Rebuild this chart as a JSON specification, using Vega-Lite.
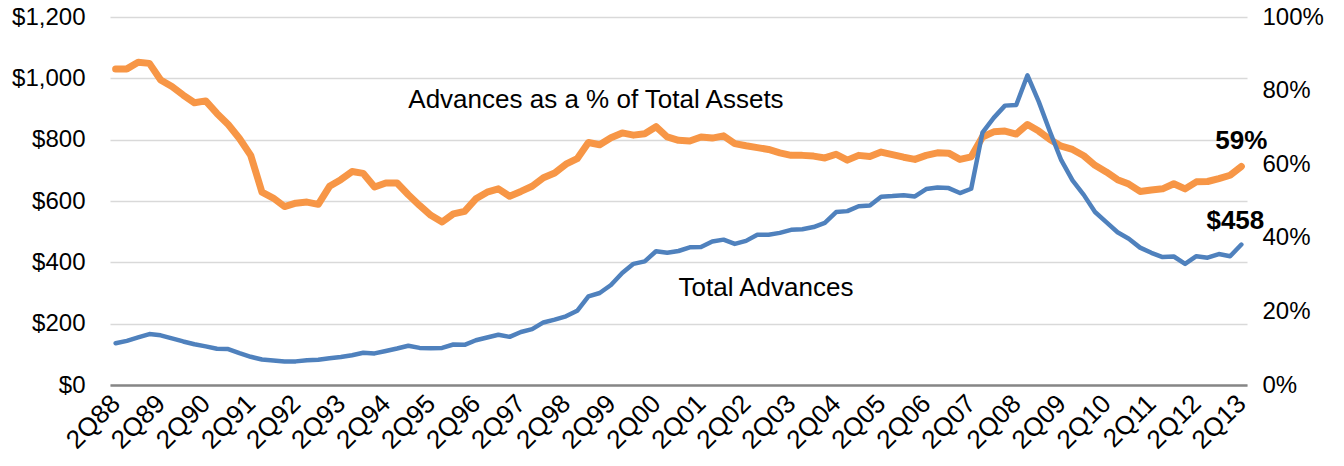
{
  "$schema": "https://vega.github.io/schema/vega-lite/v6.json",
  "width": 1137,
  "height": 368,
  "autosize": {"type": "none"},
  "padding": {"left": 110, "top": 17, "right": 97, "bottom": 81},
  "background": "white",
  "config": {"view": {"stroke": null}, "font": "Liberation Sans"},
  "data": {"values": [
    {"q":"2Q88","adv":136,"pct":85.9},{"q":"3Q88","adv":144,"pct":85.9},{"q":"4Q88","adv":155,"pct":87.7},{"q":"1Q89","adv":166,"pct":87.4},
    {"q":"2Q89","adv":162,"pct":82.9},{"q":"3Q89","adv":152,"pct":81.1},{"q":"4Q89","adv":142,"pct":78.8},{"q":"1Q90","adv":133,"pct":76.7},
    {"q":"2Q90","adv":126,"pct":77.2},{"q":"3Q90","adv":118,"pct":73.8},{"q":"4Q90","adv":117,"pct":70.8},{"q":"1Q91","adv":104,"pct":67.0},
    {"q":"2Q91","adv":92,"pct":62.4},{"q":"3Q91","adv":83,"pct":52.4},{"q":"4Q91","adv":80,"pct":50.8},{"q":"1Q92","adv":77,"pct":48.5},
    {"q":"2Q92","adv":77,"pct":49.4},{"q":"3Q92","adv":81,"pct":49.7},{"q":"4Q92","adv":82,"pct":49.1},{"q":"1Q93","adv":87,"pct":54.0},
    {"q":"2Q93","adv":91,"pct":55.8},{"q":"3Q93","adv":97,"pct":58.0},{"q":"4Q93","adv":105,"pct":57.5},{"q":"1Q94","adv":103,"pct":53.8},
    {"q":"2Q94","adv":111,"pct":54.9},{"q":"3Q94","adv":119,"pct":54.9},{"q":"4Q94","adv":128,"pct":51.7},{"q":"1Q95","adv":121,"pct":48.8},
    {"q":"2Q95","adv":120,"pct":46.1},{"q":"3Q95","adv":121,"pct":44.3},{"q":"4Q95","adv":132,"pct":46.5},{"q":"1Q96","adv":131,"pct":47.2},
    {"q":"2Q96","adv":146,"pct":50.6},{"q":"3Q96","adv":155,"pct":52.4},{"q":"4Q96","adv":164,"pct":53.3},{"q":"1Q97","adv":157,"pct":51.3},
    {"q":"2Q97","adv":173,"pct":52.6},{"q":"3Q97","adv":182,"pct":54.0},{"q":"4Q97","adv":204,"pct":56.3},{"q":"1Q98","adv":213,"pct":57.6},
    {"q":"2Q98","adv":224,"pct":60.0},{"q":"3Q98","adv":242,"pct":61.5},{"q":"4Q98","adv":289,"pct":65.9},{"q":"1Q99","adv":300,"pct":65.3},
    {"q":"2Q99","adv":326,"pct":67.2},{"q":"3Q99","adv":365,"pct":68.5},{"q":"4Q99","adv":395,"pct":67.9},{"q":"1Q00","adv":403,"pct":68.3},
    {"q":"2Q00","adv":436,"pct":70.2},{"q":"3Q00","adv":431,"pct":67.4},{"q":"4Q00","adv":437,"pct":66.5},{"q":"1Q01","adv":449,"pct":66.3},
    {"q":"2Q01","adv":450,"pct":67.4},{"q":"3Q01","adv":468,"pct":67.1},{"q":"4Q01","adv":474,"pct":67.7},{"q":"1Q02","adv":460,"pct":65.6},
    {"q":"2Q02","adv":470,"pct":65.0},{"q":"3Q02","adv":490,"pct":64.5},{"q":"4Q02","adv":490,"pct":64.0},{"q":"1Q03","adv":496,"pct":63.1},
    {"q":"2Q03","adv":506,"pct":62.4},{"q":"3Q03","adv":508,"pct":62.4},{"q":"4Q03","adv":515,"pct":62.2},{"q":"1Q04","adv":529,"pct":61.7},
    {"q":"2Q04","adv":564,"pct":62.7},{"q":"3Q04","adv":567,"pct":61.1},{"q":"4Q04","adv":583,"pct":62.4},{"q":"1Q05","adv":585,"pct":62.1},
    {"q":"2Q05","adv":614,"pct":63.3},{"q":"3Q05","adv":616,"pct":62.6},{"q":"4Q05","adv":619,"pct":61.9},{"q":"1Q06","adv":615,"pct":61.3},
    {"q":"2Q06","adv":639,"pct":62.4},{"q":"3Q06","adv":644,"pct":63.1},{"q":"4Q06","adv":642,"pct":63.0},{"q":"1Q07","adv":626,"pct":61.3},
    {"q":"2Q07","adv":640,"pct":62.0},{"q":"3Q07","adv":823,"pct":67.4},{"q":"4Q07","adv":871,"pct":68.8},{"q":"1Q08","adv":911,"pct":69.0},
    {"q":"2Q08","adv":913,"pct":68.2},{"q":"3Q08","adv":1010,"pct":70.8},{"q":"4Q08","adv":924,"pct":69.0},{"q":"1Q09","adv":826,"pct":66.7},
    {"q":"2Q09","adv":733,"pct":64.9},{"q":"3Q09","adv":667,"pct":64.0},{"q":"4Q09","adv":620,"pct":62.3},{"q":"1Q10","adv":564,"pct":59.7},
    {"q":"2Q10","adv":531,"pct":57.9},{"q":"3Q10","adv":498,"pct":55.8},{"q":"4Q10","adv":477,"pct":54.6},{"q":"1Q11","adv":448,"pct":52.6},
    {"q":"2Q11","adv":431,"pct":53.0},{"q":"3Q11","adv":417,"pct":53.3},{"q":"4Q11","adv":419,"pct":54.7},{"q":"1Q12","adv":395,"pct":53.3},
    {"q":"2Q12","adv":420,"pct":55.2},{"q":"3Q12","adv":415,"pct":55.3},{"q":"4Q12","adv":427,"pct":56.1},{"q":"1Q13","adv":420,"pct":57.0},
    {"q":"2Q13","adv":458,"pct":59.4}
  ]},
  "encoding": {
    "x": {
      "field": "q",
      "type": "ordinal",
      "scale": {
        "type": "point",
        "padding": 0.5,
        "domain": ["2Q88","3Q88","4Q88","1Q89","2Q89","3Q89","4Q89","1Q90","2Q90","3Q90","4Q90","1Q91","2Q91","3Q91","4Q91","1Q92","2Q92","3Q92","4Q92","1Q93","2Q93","3Q93","4Q93","1Q94","2Q94","3Q94","4Q94","1Q95","2Q95","3Q95","4Q95","1Q96","2Q96","3Q96","4Q96","1Q97","2Q97","3Q97","4Q97","1Q98","2Q98","3Q98","4Q98","1Q99","2Q99","3Q99","4Q99","1Q00","2Q00","3Q00","4Q00","1Q01","2Q01","3Q01","4Q01","1Q02","2Q02","3Q02","4Q02","1Q03","2Q03","3Q03","4Q03","1Q04","2Q04","3Q04","4Q04","1Q05","2Q05","3Q05","4Q05","1Q06","2Q06","3Q06","4Q06","1Q07","2Q07","3Q07","4Q07","1Q08","2Q08","3Q08","4Q08","1Q09","2Q09","3Q09","4Q09","1Q10","2Q10","3Q10","4Q10","1Q11","2Q11","3Q11","4Q11","1Q12","2Q12","3Q12","4Q12","1Q13","2Q13"]
      },
      "axis": {
        "values": ["2Q88","2Q89","2Q90","2Q91","2Q92","2Q93","2Q94","2Q95","2Q96","2Q97","2Q98","2Q99","2Q00","2Q01","2Q02","2Q03","2Q04","2Q05","2Q06","2Q07","2Q08","2Q09","2Q10","2Q11","2Q12","2Q13"],
        "title": null,
        "labelAngle": -45,
        "labelAlign": "right",
        "labelBaseline": "middle",
        "labelFontSize": 26,
        "labelColor": "#000000",
        "labelPadding": 14,
        "ticks": false,
        "domain": true,
        "domainColor": "#868686",
        "domainWidth": 2.5,
        "grid": false,
        "labelOverlap": false
      }
    }
  },
  "layer": [
    {
      "encoding": {
        "y": {
          "field": "pct",
          "type": "quantitative",
          "scale": {"domain": [0, 100], "nice": false, "zero": true},
          "axis": {
            "orient": "right",
            "values": [0, 20, 40, 60, 80, 100],
            "labelExpr": "datum.value + '%'",
            "title": null,
            "domain": false,
            "ticks": false,
            "grid": false,
            "labelFontSize": 24,
            "labelColor": "#000000",
            "labelPadding": 15
          }
        }
      },
      "layer": [
        {"mark": {"type": "line", "color": "#F79646", "strokeWidth": 7, "strokeJoin": "round", "strokeCap": "round"}},
        {
          "data": {"values": [{"q": "4Q94", "pct": 77.4, "label": "Advances as a % of Total Assets"}]},
          "mark": {"type": "text", "align": "left", "baseline": "middle", "fontSize": 26, "color": "#000000"},
          "encoding": {"text": {"field": "label"}}
        },
        {
          "data": {"values": [{"q": "2Q13", "pct": 66.3, "label": "59%"}]},
          "mark": {"type": "text", "align": "center", "baseline": "middle", "fontSize": 26, "fontWeight": "bold", "color": "#000000"},
          "encoding": {"text": {"field": "label"}}
        }
      ]
    },
    {
      "encoding": {
        "y": {
          "field": "adv",
          "type": "quantitative",
          "scale": {"domain": [0, 1200], "nice": false, "zero": true},
          "axis": {
            "orient": "left",
            "values": [0, 200, 400, 600, 800, 1000, 1200],
            "labelExpr": "'$' + format(datum.value, ',')",
            "title": null,
            "domain": false,
            "ticks": false,
            "grid": true,
            "gridColor": "#D9D9D9",
            "gridWidth": 1.5,
            "labelFontSize": 24,
            "labelColor": "#000000",
            "labelPadding": 25
          }
        }
      },
      "layer": [
        {"mark": {"type": "line", "color": "#4F81BD", "strokeWidth": 4.5, "strokeJoin": "round", "strokeCap": "round"}},
        {
          "data": {"values": [{"q": "4Q00", "adv": 316, "label": "Total Advances"}]},
          "mark": {"type": "text", "align": "left", "baseline": "middle", "fontSize": 26, "color": "#000000"},
          "encoding": {"text": {"field": "label"}}
        },
        {
          "data": {"values": [{"q": "2Q13", "adv": 535, "label": "$458"}]},
          "mark": {"type": "text", "align": "center", "baseline": "middle", "fontSize": 26, "fontWeight": "bold", "color": "#000000", "dx": -6},
          "encoding": {"text": {"field": "label"}}
        }
      ]
    }
  ],
  "resolve": {"scale": {"y": "independent"}, "axis": {"y": "independent"}}
}
